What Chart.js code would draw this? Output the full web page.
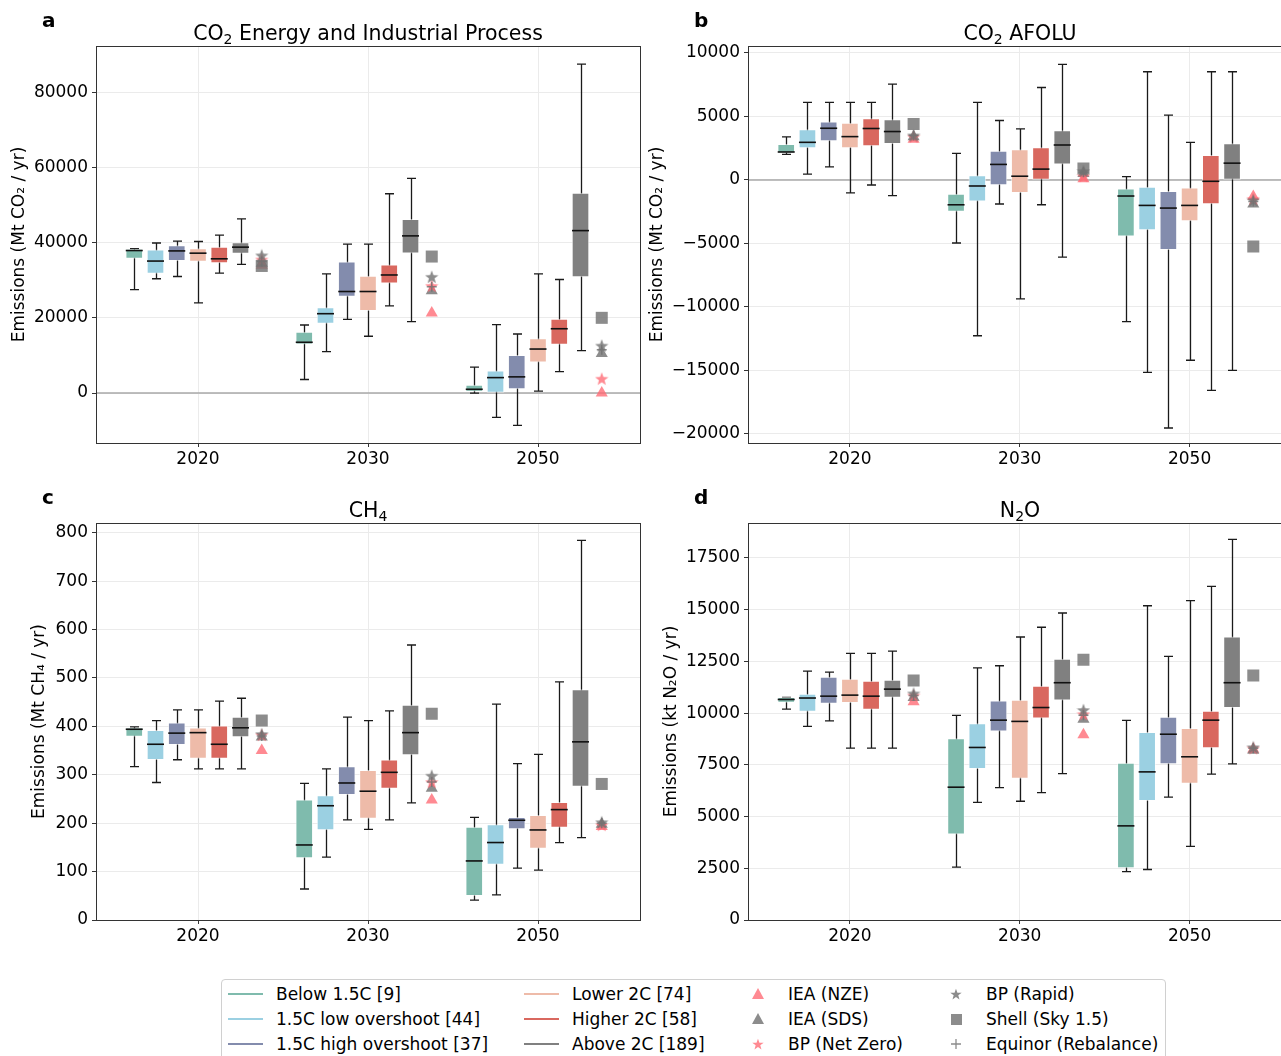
<!DOCTYPE html>
<html><head><meta charset="utf-8">
<script src="https://cdn.jsdelivr.net/npm/chart.js@4.4.1/dist/chart.umd.min.js"></script>
<style>
html,body{margin:0;padding:0;background:#fff;width:1281px;height:1056px;overflow:hidden;font-family:'DejaVu Sans',sans-serif;color:#000;}
#wrap{position:relative;width:1281px;height:1056px;overflow:hidden;}
.panel{position:absolute;width:660px;height:480px;}
.letter{position:absolute;font-weight:bold;font-size:20px;line-height:22px;}
.ptitle{position:absolute;font-size:20.5px;line-height:24px;transform:translateX(-50%);white-space:nowrap;}
.ptitle sub{font-size:14px;vertical-align:-4px;line-height:0;}
#legend{position:absolute;left:221px;top:979px;width:945px;height:100px;border:1px solid #d0d0d0;border-radius:4px;box-sizing:border-box;}
.li{position:absolute;font-size:17px;line-height:20px;white-space:nowrap;transform:translateY(-50%);}
.ll{position:absolute;height:2px;width:35px;}
.lm{position:absolute;transform:translate(-50%,-50%);}
</style></head>
<body><div id="wrap">
<canvas id="ca" class="panel" width="660" height="480" style="left:0;top:0"></canvas>
<canvas id="cb" class="panel" width="660" height="480" style="left:640px;top:0"></canvas>
<canvas id="cc" class="panel" width="660" height="480" style="left:0;top:480px"></canvas>
<canvas id="cd" class="panel" width="660" height="480" style="left:640px;top:480px"></canvas>
<div class="letter" style="left:42px;top:9px">a</div>
<div class="letter" style="left:694px;top:9px">b</div>
<div class="letter" style="left:42px;top:486px">c</div>
<div class="letter" style="left:694px;top:486px">d</div>
<div class="ptitle" style="left:368px;top:21px">CO<sub>2</sub> Energy and Industrial Process</div>
<div class="ptitle" style="left:1020px;top:21px">CO<sub>2</sub> AFOLU</div>
<div class="ptitle" style="left:368px;top:498px">CH<sub>4</sub></div>
<div class="ptitle" style="left:1020px;top:498px">N<sub>2</sub>O</div>
<div id="legend"></div>
</div>
<script>
// ---------- categories / labels ----------
const years = ['2020', '2030', '2050'];
const categories = ['Below 1.5C [9]', '1.5C low overshoot [44]', '1.5C high overshoot [37]', 'Lower 2C [74]', 'Higher 2C [58]', 'Above 2C [189]'];
const scenarios = ['IEA (NZE)', 'IEA (SDS)', 'BP (Net Zero)', 'BP (Rapid)', 'Shell (Sky 1.5)', 'Equinor (Rebalance)'];

// ---------- panel a: CO2 Energy and Industrial Process (rows = categories, cols = years) ----------
const energyMin    = [[27500, 3600, 0], [30400, 11000, -6500], [31000, 19600, -8600], [24000, 15100, 500], [31900, 23200, 5700], [34200, 19000, 11300]];
const energyQ1     = [[35800, 13000, 400], [31800, 18500, 0], [35200, 25700, 1100], [35000, 21900, 8200], [34600, 29200, 12900], [37100, 37200, 30900]];
const energyMedian = [[37900, 13500, 1000], [35100, 21100, 4100], [37800, 27000, 4300], [37200, 27000, 11700], [35700, 31400, 17100], [38800, 41800, 43200]];
const energyQ3     = [[38300, 16200, 2100], [38100, 22700, 5900], [39200, 34900, 10000], [38400, 31100, 14500], [38800, 34100, 19700], [40000, 46200, 53200]];
const energyMax    = [[38400, 18100, 6900], [39900, 31700, 18200], [40400, 39600, 15700], [40300, 39600, 31700], [42000, 53000, 30200], [46300, 57100, 87500]];
const energyScen   = [[34000, 21300, 0], [34500, 27200, 10500], [35500, 28500, 3800], [36600, 30900, 12600], [33800, 36300, 20000], [35000, 28300, 11500]];
const energyTicks  = [0, 20000, 40000, 60000, 80000];

// ---------- panel b: CO2 AFOLU ----------
const afoluMin    = [[2010, -4970, -11160], [450, -12280, -15160], [1030, -1900, -19550], [-1030, -9370, -14210], [-400, -1960, -16590], [-1240, -6080, -15000]];
const afoluQ1     = [[2120, -2490, -4440], [2510, -1670, -3940], [3070, -400, -5500], [2510, -1000, -3230], [2670, 0, -1900], [2860, 1240, 0]];
const afoluMedian = [[2200, -1960, -1270], [2960, -480, -2010], [4070, 1220, -2220], [3410, 290, -2010], [4050, 850, -110], [3810, 2750, 1320]];
const afoluQ3     = [[2800, -1110, -710], [3970, 340, -560], [4580, 2280, -900], [4470, 2380, -630], [4840, 2540, 1930], [4760, 3890, 2860]];
const afoluMax    = [[3390, 2090, 260], [6110, 6110, 8520], [6110, 4680, 5110], [6110, 4020, 2960], [6110, 7280, 8520], [7540, 9100, 8520]];
const afoluScen   = [[3200, 100, -1300], [3400, 500, -1900], [3400, 300, -1500], [3500, 700, -1600], [4400, 900, -5250], [3500, 600, -1700]];
const afoluTicks  = [-20000, -15000, -10000, -5000, 0, 5000, 10000];

// ---------- panel c: CH4 ----------
const ch4Min    = [[317, 64, 41], [284, 130, 52], [331, 207, 107], [312, 187, 103], [312, 207, 160], [312, 242, 170]];
const ch4Q1     = [[379, 128, 50], [331, 186, 115], [362, 259, 188], [334, 210, 148], [334, 272, 191], [378, 341, 276]];
const ch4Median = [[394, 155, 122], [363, 236, 160], [386, 283, 206], [387, 266, 186], [363, 305, 228], [397, 387, 368]];
const ch4Q3     = [[397, 248, 192], [392, 257, 197], [407, 317, 212], [397, 309, 216], [401, 331, 243], [419, 444, 476]];
const ch4Max    = [[399, 282, 212], [412, 312, 446], [434, 419, 323], [434, 412, 342], [452, 432, 492], [458, 568, 784]];
const ch4Scen   = [[350, 248, 193], [378, 272, 198], [382, 285, 196], [384, 298, 202], [412, 426, 281], [380, 285, 200]];
const ch4Ticks  = [0, 100, 200, 300, 400, 500, 600, 700, 800];

// ---------- panel d: N2O ----------
const n2oMin    = [[10190, 2560, 2340], [9360, 5690, 2440], [9630, 6400, 5940], [8310, 5740, 3560], [8310, 6160, 7050], [8310, 7080, 7550]];
const n2oQ1     = [[10520, 4150, 2520], [10080, 7320, 5770], [10470, 9130, 7550], [10500, 6840, 6600], [10180, 9760, 8320], [10760, 10630, 10260]];
const n2oMedian = [[10660, 6420, 4550], [10730, 8340, 7160], [10820, 9660, 8980], [10870, 9600, 7890], [10820, 10270, 9660], [11160, 11470, 11470]];
const n2oQ3     = [[10760, 8770, 7580], [10920, 9500, 9070], [11740, 10600, 9810], [11650, 10630, 9260], [11550, 11310, 10100], [11600, 12610, 13690]];
const n2oMax    = [[10760, 9890, 9650], [12030, 12190, 15190], [11980, 12290, 12740], [12890, 13680, 15440], [12890, 14150, 16130], [13000, 14840, 18400]];
const n2oScen   = [[10550, 8950, 8250], [10750, 9700, 8200], [10850, 9950, 8300], [10950, 10150, 8350], [11580, 12580, 11820], [10850, 9900, 8300]];
const n2oTicks  = [0, 2500, 5000, 7500, 10000, 12500, 15000, 17500];

// ---------- styles ----------
const catColors = ['#7fbbad', '#9bd0e2', '#838cad', '#eebba9', '#d9685f', '#808080'];
const PINK = 'rgba(255,105,115,0.78)';
const GREY = 'rgba(115,115,115,0.82)';
const scenColors = [PINK, GREY, PINK, GREY, GREY, GREY];
const FONT = 'DejaVu Sans';

function starCanvas(color, size) {
  const c = document.createElement('canvas'); c.width = c.height = size;
  const g = c.getContext('2d'); g.fillStyle = color; g.beginPath();
  const cx = size / 2, cy = size / 2 + 0.6, R = size / 2, r = R * 0.42;
  for (let i = 0; i < 10; i++) {
    const a = -Math.PI / 2 + i * Math.PI / 5, rr = i % 2 ? r : R;
    g.lineTo(cx + rr * Math.cos(a), cy + rr * Math.sin(a));
  }
  g.closePath(); g.fill(); return c;
}
const scenStyles = ['triangle', 'triangle', starCanvas(PINK, 14), starCanvas(GREY, 14), 'rect', 'cross'];
const scenRadius = [7, 7, 7, 7, 8.5, 5];

const BOX_STEP = 0.125, MARK_OFF = 0.375;

const boxPlugin = {
  id: 'boxparts',
  beforeDatasetsDraw(chart) {
    const {ctx, chartArea: a, scales: {x, y}} = chart;
    const st = chart.options.plugins.boxparts;
    ctx.save();
    ctx.beginPath(); ctx.rect(a.left, a.top, a.right - a.left, a.bottom - a.top); ctx.clip();
    if (st.zero) {
      ctx.strokeStyle = '#a8a8a8'; ctx.lineWidth = 1.5;
      ctx.beginPath(); ctx.moveTo(a.left, y.getPixelForValue(0)); ctx.lineTo(a.right, y.getPixelForValue(0)); ctx.stroke();
    }
    ctx.strokeStyle = '#1a1a1a'; ctx.lineWidth = 1.3;
    for (let c = 0; c < 6; c++) for (let j = 0; j < 3; j++) {
      const px = Math.round(x.getPixelForValue(j + (c - 3) * BOX_STEP)) + 0.5;
      const lo = y.getPixelForValue(st.min[c][j]), hi = y.getPixelForValue(st.max[c][j]);
      ctx.beginPath();
      ctx.moveTo(px, lo); ctx.lineTo(px, hi);
      ctx.moveTo(px - 4.5, lo); ctx.lineTo(px + 4.5, lo);
      ctx.moveTo(px - 4.5, hi); ctx.lineTo(px + 4.5, hi);
      ctx.stroke();
    }
    ctx.restore();
  },
  afterDatasetsDraw(chart) {
    const {ctx, scales: {x, y}} = chart;
    const st = chart.options.plugins.boxparts;
    ctx.save();
    ctx.strokeStyle = '#111'; ctx.lineWidth = 1.6;
    for (let c = 0; c < 6; c++) for (let j = 0; j < 3; j++) {
      const px = x.getPixelForValue(j + (c - 3) * BOX_STEP);
      const py = y.getPixelForValue(st.med[c][j]);
      ctx.beginPath(); ctx.moveTo(px - 8.5, py); ctx.lineTo(px + 8.5, py); ctx.stroke();
    }
    ctx.restore();
  },
  afterDraw(chart) {
    const {ctx, chartArea: a} = chart;
    ctx.save(); ctx.strokeStyle = '#333'; ctx.lineWidth = 1;
    ctx.strokeRect(Math.round(a.left) + 0.5, Math.round(a.top) + 0.5, Math.round(a.right - a.left), Math.round(a.bottom - a.top));
    ctx.restore();
  }
};

function fmt(v) { return String(v).replace('-', '\u2212'); }

function makeChart(id, cfg) {
  const datasets = [];
  for (let c = 0; c < 6; c++) {
    datasets.push({
      type: 'bar', label: categories[c],
      data: years.map((_, j) => ({x: j + (c - 3) * BOX_STEP, y: [cfg.q1[c][j], cfg.q3[c][j]]})),
      backgroundColor: catColors[c], borderColor: 'rgba(255,255,255,0.55)', borderWidth: 1, borderSkipped: false,
      barThickness: 17, grouped: false, order: 20
    });
  }
  for (let s = 0; s < 6; s++) {
    datasets.push({
      type: 'scatter', label: scenarios[s],
      data: years.map((_, j) => ({x: j + MARK_OFF, y: cfg.scen[s][j]})),
      pointStyle: scenStyles[s], pointRadius: scenRadius[s],
      backgroundColor: scenColors[s], borderColor: scenColors[s], borderWidth: s === 5 ? 1.5 : 0,
      order: 10 - s
    });
  }
  return new Chart(document.getElementById(id), {
    type: 'bar',
    data: {datasets},
    plugins: [boxPlugin],
    options: {
      responsive: false, animation: false, devicePixelRatio: 1,
      layout: {padding: {top: cfg.padTop, right: cfg.padRight, left: 0, bottom: 0}},
      plugins: {
        legend: {display: false}, tooltip: {enabled: false},
        boxparts: {min: cfg.min, max: cfg.max, med: cfg.med, zero: cfg.zero}
      },
      scales: {
        x: {
          type: 'linear', min: -0.6, max: 2.6, offset: false,
          afterBuildTicks: s => { s.ticks = years.map((_, i) => ({value: i})); },
          afterFit: s => { s.height = cfg.xH; },
          ticks: {callback: v => years[v], font: {family: FONT, size: 17}, color: '#000', padding: 2, maxRotation: 0},
          grid: {color: '#ebebeb', lineWidth: 1, tickColor: '#333', tickLength: 4, offset: false},
          border: {display: false}
        },
        y: {
          type: 'linear', min: cfg.yMin, max: cfg.yMax,
          afterBuildTicks: s => { s.ticks = cfg.ticks.map(v => ({value: v})); },
          afterFit: s => { s.width = cfg.yW; },
          ticks: {callback: v => fmt(v), font: {family: FONT, size: 17}, color: '#000', padding: 4},
          grid: {color: '#ebebeb', lineWidth: 1, tickColor: '#333', tickLength: 4},
          border: {display: false},
          title: {display: true, text: cfg.yTitle, font: {family: FONT, size: 17}, color: '#000', padding: {top: cfg.titlePad, bottom: 0}}
        }
      }
    }
  });
}

makeChart('ca', {min: energyMin, q1: energyQ1, med: energyMedian, q3: energyQ3, max: energyMax, scen: energyScen, ticks: energyTicks,
  yMin: -13290, yMax: 92300, zero: true, yTitle: 'Emissions (Mt CO\u2082 / yr)', yW: 96, padTop: 46, padRight: 20, xH: 37, titlePad: 9});
makeChart('cb', {min: afoluMin, q1: afoluQ1, med: afoluMedian, q3: afoluQ3, max: afoluMax, scen: afoluScen, ticks: afoluTicks,
  yMin: -20730, yMax: 10550, zero: true, yTitle: 'Emissions (Mt CO\u2082 / yr)', yW: 108, padTop: 46, padRight: 8, xH: 37, titlePad: 7});
makeChart('cc', {min: ch4Min, q1: ch4Q1, med: ch4Median, q3: ch4Q3, max: ch4Max, scen: ch4Scen, ticks: ch4Ticks,
  yMin: 0, yMax: 820, zero: false, yTitle: 'Emissions (Mt CH\u2084 / yr)', yW: 96, padTop: 43, padRight: 20, xH: 40, titlePad: 29});
makeChart('cd', {min: n2oMin, q1: n2oQ1, med: n2oMedian, q3: n2oQ3, max: n2oMax, scen: n2oScen, ticks: n2oTicks,
  yMin: 0, yMax: 19190, zero: false, yTitle: 'Emissions (kt N\u2082O / yr)', yW: 108, padTop: 43, padRight: 8, xH: 40, titlePad: 21});

// ---------- legend ----------
const leg = document.getElementById('legend');
const rowsY = [14, 39, 64];
categories.forEach((name, i) => {
  const col = Math.floor(i / 3), row = i % 3;
  const lx = col === 0 ? 6 : 302, tx = col === 0 ? 54 : 350;
  const l = document.createElement('div'); l.className = 'll';
  l.style.left = lx + 'px'; l.style.top = (rowsY[row] - 1) + 'px'; l.style.background = catColors[i];
  leg.appendChild(l);
  const t = document.createElement('div'); t.className = 'li'; t.textContent = name;
  t.style.left = tx + 'px'; t.style.top = rowsY[row] + 'px'; leg.appendChild(t);
});
const svgMarks = [
  '<svg width="14" height="14"><polygon points="7,1 13,12 1,12" fill="' + PINK + '"/></svg>',
  '<svg width="14" height="14"><polygon points="7,1 13,12 1,12" fill="' + GREY + '"/></svg>',
  '<svg width="14" height="14"><polygon points="7,0.5 8.7,5.2 13.7,5.3 9.7,8.3 11.1,13.1 7,10.3 2.9,13.1 4.3,8.3 0.3,5.3 5.3,5.2" fill="' + PINK + '" transform="scale(0.85) translate(1.2,1.5)"/></svg>',
  '<svg width="14" height="14"><polygon points="7,0.5 8.7,5.2 13.7,5.3 9.7,8.3 11.1,13.1 7,10.3 2.9,13.1 4.3,8.3 0.3,5.3 5.3,5.2" fill="' + GREY + '" transform="scale(0.85) translate(1.2,1.5)"/></svg>',
  '<svg width="14" height="14"><rect x="2" y="2" width="11" height="11" fill="' + GREY + '"/></svg>',
  '<svg width="14" height="14"><path d="M7 2 V12 M2 7 H12" stroke="' + GREY + '" stroke-width="1.3"/></svg>'
];
scenarios.forEach((name, i) => {
  const col = Math.floor(i / 3), row = i % 3;
  const mx = col === 0 ? 536 : 734, tx = col === 0 ? 566 : 764;
  const m = document.createElement('div'); m.className = 'lm'; m.innerHTML = svgMarks[i];
  m.style.left = mx + 'px'; m.style.top = rowsY[row] + 'px'; m.style.lineHeight = '0'; leg.appendChild(m);
  const t = document.createElement('div'); t.className = 'li'; t.textContent = name;
  t.style.left = tx + 'px'; t.style.top = rowsY[row] + 'px'; leg.appendChild(t);
});
</script>
</body></html>
